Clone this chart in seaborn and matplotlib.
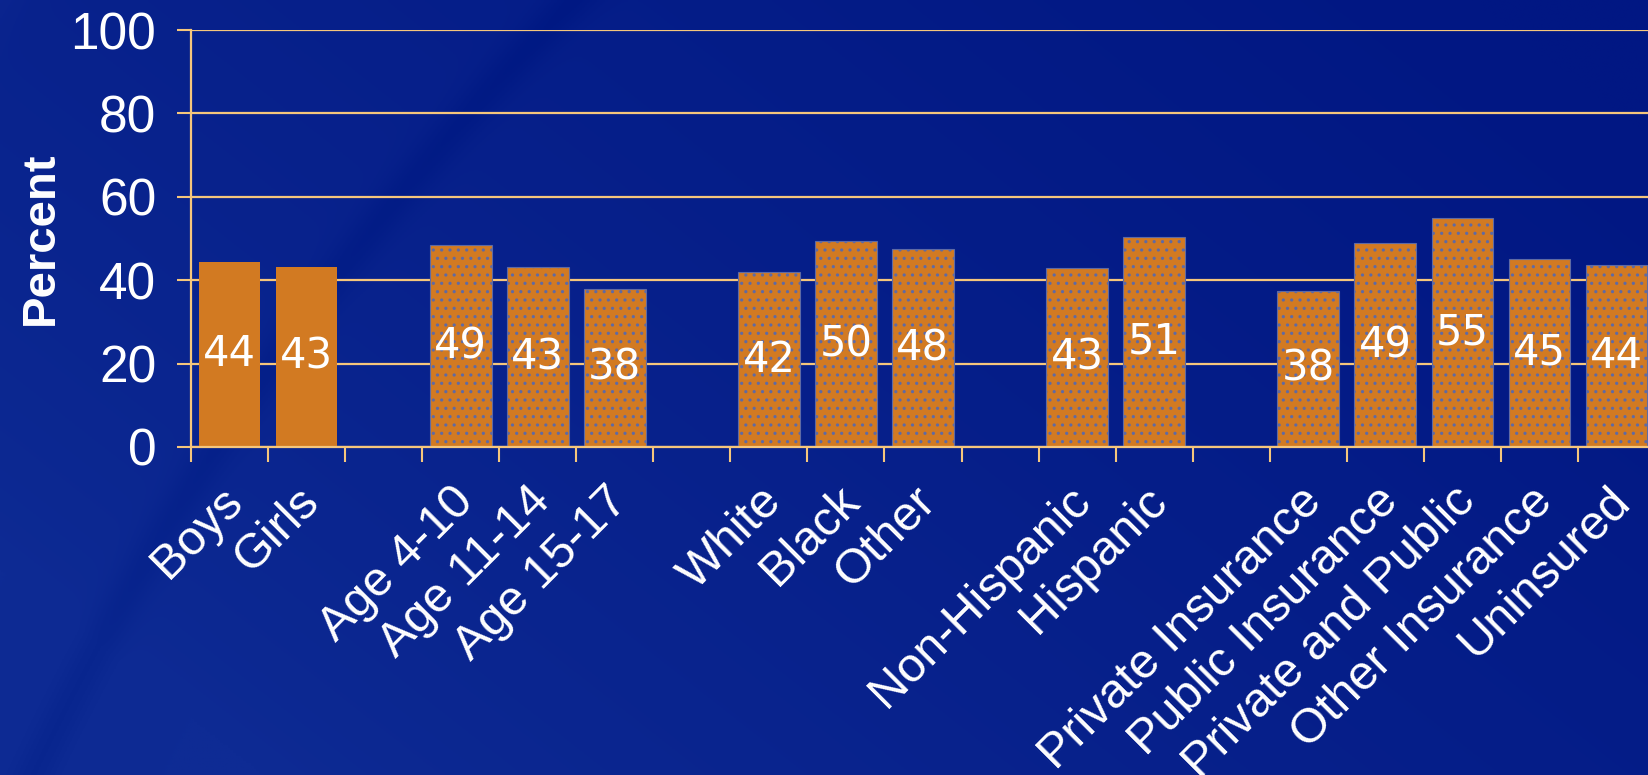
import numpy as np
import pandas as pd
import matplotlib
matplotlib.use("Agg")
import matplotlib.pyplot as plt
import matplotlib.transforms as mtransforms
import seaborn as sns

# ---------------- data ----------------
categories = ["Boys", "Girls",
              "Age 4-10", "Age 11-14", "Age 15-17",
              "White", "Black", "Other",
              "Non-Hispanic", "Hispanic",
              "Private Insurance", "Public Insurance", "Private and Public",
              "Other Insurance", "Uninsured"]
values = [44.4, 43.2,
          48.4, 43.1, 38.0,
          41.9, 49.3, 47.4,
          42.9, 50.4,
          37.5, 48.9, 54.8, 45.1, 43.6]
value_labels = ["44", "43",
                "49", "43", "38",
                "42", "50", "48",
                "43", "51",
                "38", "49", "55", "45", "44"]
# slot order on the axis (blank slots separate the groups)
slot_order = ["Boys", "Girls", " ",
              "Age 4-10", "Age 11-14", "Age 15-17", "  ",
              "White", "Black", "Other", "   ",
              "Non-Hispanic", "Hispanic", "    ",
              "Private Insurance", "Public Insurance", "Private and Public",
              "Other Insurance", "Uninsured"]
solid_categories = ["Boys", "Girls"]
yticks = [0, 20, 40, 60, 80, 100]

# ---------------- style ----------------
ORANGE = "#d27a22"
GRID = "#f5c67c"
DOT = "#5f6aa4"

sns.set_theme(style="white")
plt.rcParams["font.family"] = ["Liberation Sans", "DejaVu Sans"]
plt.rcParams["hatch.color"] = DOT
plt.rcParams["hatch.linewidth"] = 1.1

W, H, DPI = 16.48, 7.75, 100
fig = plt.figure(figsize=(W, H), dpi=DPI)

# background gradient (decoration)
bg = fig.add_axes([0, 0, 1, 1], zorder=-10)
ny, nx = 300, 640
yy, xx = np.mgrid[0:1:ny * 1j, 0:1:nx * 1j]
c_light = np.array([0x0e, 0x2b, 0x94]) / 255.0
c_dark = np.array([0x01, 0x17, 0x83]) / 255.0
t = np.clip(0.75 * xx + 0.45 * (1 - yy) - 0.12, 0, 1)  # yy=0 at top
t = t ** 0.75
img = c_light[None, None, :] * (1 - t[..., None]) + c_dark[None, None, :] * t[..., None]
for cx, cy, r, amp, w in [(1.35, 2.2, 2.05, -0.025, 0.010), (1.45, 2.4, 1.85, 0.015, 0.020),
                          (1.6, 2.6, 1.75, -0.02, 0.012)]:
    dist = np.sqrt((xx - cx) ** 2 + ((yy - cy) * 0.47) ** 2)
    band = np.exp(-((dist - r) / w) ** 2)
    img = img + amp * band[..., None]
img = np.clip(img, 0, 1)
bg.imshow(img, aspect="auto", extent=[0, 1, 0, 1], origin="upper")
bg.set_axis_off()

# main axes
ax_left, ax_right = 191 / 1648, 1655 / 1648
ax_bottom, ax_top = (775 - 447) / 775, (775 - 30) / 775
ax = fig.add_axes([ax_left, ax_bottom, ax_right - ax_left, ax_top - ax_bottom])
ax.set_facecolor("none")

df = pd.DataFrame({"category": categories, "value": values})
sns.barplot(data=df, x="category", y="value", order=slot_order,
            color=ORANGE, saturation=1, width=0.8, ax=ax, zorder=3)

cont = ax.containers[0]
for patch in cont.patches:
    cx = patch.get_x() + patch.get_width() / 2
    name = slot_order[int(round(cx))]
    patch.set_facecolor(ORANGE)
    if name in solid_categories:
        patch.set_edgecolor(ORANGE)
        patch.set_linewidth(0)
    else:
        patch.set_hatch("..")
        patch.set_edgecolor(DOT)
        patch.set_linewidth(0.8)

# value labels centred in bars, following bar order
label_map = dict(zip(categories, value_labels))
bar_texts = []
for patch in cont.patches:
    cx = patch.get_x() + patch.get_width() / 2
    bar_texts.append(label_map[slot_order[int(round(cx))]])
ax.bar_label(cont, labels=bar_texts, label_type="center", color="white",
             fontsize=30, family="DejaVu Sans")

ax.set_ylim(0, 100)
ax.set_xlim(-0.5, len(slot_order) - 0.5)
ax.set_yticks(yticks)
ax.set_yticklabels([str(v) for v in yticks])
ax.yaxis.grid(True, color=GRID, linewidth=1.6, zorder=0)
ax.set_axisbelow(True)

# x ticks: marks at slot boundaries, labels at slot centres
ax.set_xticks(np.arange(-0.5, len(slot_order), 1.0))
ax.set_xticklabels([])
ax.set_xticks(np.arange(len(slot_order)), minor=True)
ax.set_xticklabels([s.strip() for s in slot_order], minor=True)
ax.tick_params(axis="x", which="major", length=10.5, width=1.5, color=GRID,
               direction="out", bottom=True)
ax.tick_params(axis="x", which="minor", length=0, pad=34, labelsize=35,
               labelcolor="white", bottom=True)
ax.tick_params(axis="y", length=10, width=1.5, color=GRID, direction="out",
               pad=15, labelsize=37, labelcolor="white", left=True)
for lab in ax.get_xticklabels(minor=True):
    lab.set_rotation(45)
    lab.set_ha("right")
    lab.set_va("center")
    lab.set_rotation_mode("anchor")
    lab.set_transform(lab.get_transform() +
                      mtransforms.ScaledTranslation(6 / DPI, 0, fig.dpi_scale_trans))

for side in ["top", "right"]:
    ax.spines[side].set_visible(False)
for side in ["left", "bottom"]:
    ax.spines[side].set_visible(True)
    ax.spines[side].set_color(GRID)
    ax.spines[side].set_linewidth(1.6)
    ax.spines[side].set_zorder(4)

ax.set_xlabel("")
ax.set_ylabel("Percent", fontsize=34, fontweight="bold", color="white")
ax.yaxis.set_label_coords(-0.0875, 0.5)

fig.savefig("out.png", dpi=DPI, facecolor=fig.get_facecolor())
